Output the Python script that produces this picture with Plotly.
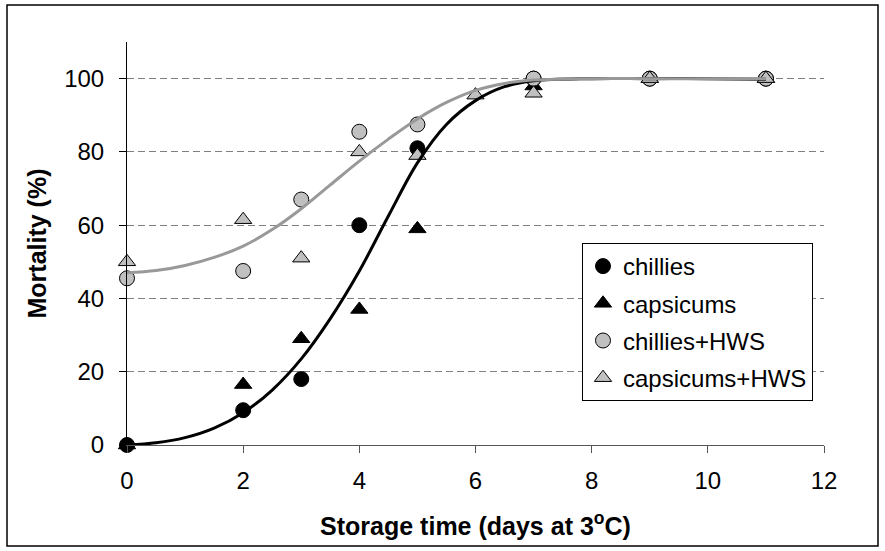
import plotly.graph_objects as go

# Observed data
days = [0, 2, 3, 4, 5, 7, 9, 11]
chillies = [0, 9.5, 18, 60, 81, 100, 100, 100]
capsicums = [0, 16.5, 29, 37, 59, 98, 100, 100]
hws_days = [0, 2, 3, 4, 5, 7, 9, 11]
chillies_hws = [45.5, 47.5, 67, 85.5, 87.5, 100, 100, 100]
caps_hws_days = [0, 2, 3, 4, 5, 6, 7, 9, 11]
capsicums_hws = [50, 61.5, 51, 80, 79, 95.5, 96, 100, 100]

# Fitted curves
fit_x = [0, 0.5, 1, 1.5, 2, 2.5, 3, 3.5, 4, 4.5, 5, 5.5, 6, 6.5, 7, 8, 9, 10, 11]
fit_black = [0, 0.6, 2, 4.6, 8.8, 15, 23.5, 34.5, 47.5, 62.5, 77, 87.5, 94, 97.8, 99.4, 100, 100, 100, 99.8]
fit_grey = [47, 47.6, 49, 51.2, 54.3, 58.8, 64.5, 71, 77.5, 83.5, 89, 93.5, 96.8, 98.7, 99.6, 100, 100, 100, 100]

GREY = "#c0c0c0"
FONT = "Liberation Sans, Arial, sans-serif"

fig = go.Figure()
fig.add_trace(go.Scatter(x=days, y=chillies, mode="markers", name="chillies", legendgroup="a",
                         marker=dict(symbol="circle", size=15, color="black",
                                     line=dict(color="black", width=1)), cliponaxis=False))
fig.add_trace(go.Scatter(x=days, y=capsicums, mode="markers", name="capsicums", legendgroup="b",
                         marker=dict(symbol="triangle-up", size=15, color="black",
                                     line=dict(color="black", width=1)), cliponaxis=False))
fig.add_trace(go.Scatter(x=hws_days, y=chillies_hws, mode="markers", name="chillies+HWS", legendgroup="c",
                         marker=dict(symbol="circle", size=15, color=GREY,
                                     line=dict(color="black", width=1)), cliponaxis=False))
fig.add_trace(go.Scatter(x=caps_hws_days, y=capsicums_hws, mode="markers", name="capsicums+HWS", legendgroup="d",
                         marker=dict(symbol="triangle-up", size=15, color=GREY,
                                     line=dict(color="black", width=1)), cliponaxis=False))
fig.add_trace(go.Scatter(x=fit_x, y=fit_black, mode="lines", showlegend=False,
                         line=dict(color="black", width=3, shape="spline"), hoverinfo="skip"))
fig.add_trace(go.Scatter(x=fit_x, y=fit_grey, mode="lines", showlegend=False,
                         line=dict(color="#999999", width=3, shape="spline"), hoverinfo="skip"))

W, H = 885, 551
L, R, T, B = 127, 824, 42, 445

def px(xp):
    return (xp - L) / (R - L)

def py(yp):
    return (B - yp) / (B - T)

fig.update_layout(
    width=W, height=H,
    margin=dict(l=L, r=W - R, t=T, b=H - B),
    paper_bgcolor="white", plot_bgcolor="white",
    font=dict(family=FONT, size=24, color="black"),
    showlegend=True,
    legend=dict(x=px(582), y=py(243), xanchor="left", yanchor="top",
                bordercolor="black", borderwidth=1, bgcolor="white",
                font=dict(size=24), itemwidth=30, tracegroupgap=3),
    xaxis=dict(range=[0, 12], tickvals=[0, 2, 4, 6, 8, 10, 12],
               showgrid=False, zeroline=False, showline=True, linecolor="#555555", linewidth=1,
               ticks="outside", ticklen=7, tickcolor="#555555", ticklabelstandoff=7,
               title=dict(text="<b>Storage time (days at 3<sup>o</sup>C)</b>", standoff=24,
                          font=dict(size=25))),
    yaxis=dict(range=[0, 110], tickvals=[0, 20, 40, 60, 80, 100],
               showgrid=True, gridcolor="#808080", griddash="7px,4px", gridwidth=1,
               zeroline=False, showline=True, linecolor="black", linewidth=1,
               ticks="outside", ticklen=7, tickcolor="black", ticklabelstandoff=10,
               title=dict(text="<b>Mortality (%)</b>", standoff=10, font=dict(size=25))),
    shapes=[dict(type="rect", xref="paper", yref="paper",
                 x0=px(7), x1=px(878), y0=py(546), y1=py(5),
                 line=dict(color="black", width=1.5), layer="below")],
)

fig.write_html("out.html", config={"displayModeBar": False},
               post_script="document.body.style.margin='0';")
